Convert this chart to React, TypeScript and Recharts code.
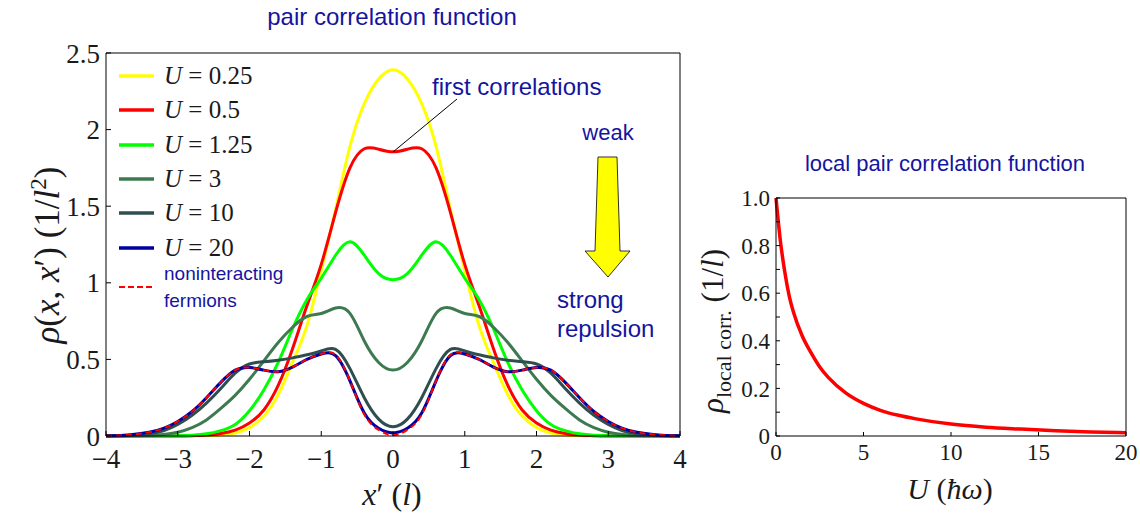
import { LineChart, Line, XAxis, YAxis, Legend } from 'recharts'

// x' positions (units of l)
const X_POS = [-4, -3.8, -3.6, -3.4, -3.2, -3, -2.8, -2.6, -2.4, -2.2, -2, -1.8, -1.6, -1.4, -1.2, -1, -0.8, -0.6, -0.4, -0.2, 0, 0.2, 0.4, 0.6, 0.8, 1, 1.2, 1.4, 1.6, 1.8, 2, 2.2, 2.4, 2.6, 2.8, 3, 3.2, 3.4, 3.6, 3.8, 4]

// rho(x, x') in 1/l^2 for each interaction strength
const RHO_U025 = [0, 0, 0, 0, 0, 0, 0, 0.002, 0.006, 0.02, 0.055, 0.13, 0.27, 0.48, 0.72, 1.08, 1.48, 1.89, 2.17, 2.33, 2.39, 2.33, 2.17, 1.89, 1.48, 1.08, 0.72, 0.48, 0.27, 0.13, 0.055, 0.02, 0.006, 0.002, 0, 0, 0, 0, 0, 0, 0]
const RHO_U05 = [0, 0, 0, 0, 0, 0, 0.002, 0.006, 0.016, 0.038, 0.085, 0.17, 0.33, 0.57, 0.85, 1.12, 1.46, 1.75, 1.875, 1.872, 1.855, 1.872, 1.875, 1.75, 1.46, 1.12, 0.85, 0.57, 0.33, 0.17, 0.085, 0.038, 0.016, 0.006, 0.002, 0, 0, 0, 0, 0, 0]
const RHO_U125 = [0, 0, 0, 0, 0, 0.001, 0.005, 0.014, 0.035, 0.075, 0.165, 0.3, 0.48, 0.7, 0.89, 1.03, 1.18, 1.268, 1.18, 1.06, 1.02, 1.06, 1.18, 1.268, 1.18, 1.03, 0.89, 0.7, 0.48, 0.3, 0.165, 0.075, 0.035, 0.014, 0.005, 0.001, 0, 0, 0, 0, 0]
const RHO_U3 = [0, 0, 0.001, 0.004, 0.01, 0.025, 0.055, 0.105, 0.18, 0.265, 0.37, 0.49, 0.61, 0.71, 0.78, 0.8, 0.835, 0.8, 0.62, 0.48, 0.43, 0.48, 0.62, 0.8, 0.835, 0.8, 0.78, 0.71, 0.61, 0.49, 0.37, 0.265, 0.18, 0.105, 0.055, 0.025, 0.01, 0.004, 0.001, 0, 0]
const RHO_U10 = [0, 0.002, 0.005, 0.014, 0.034, 0.075, 0.135, 0.215, 0.31, 0.41, 0.47, 0.485, 0.495, 0.51, 0.53, 0.555, 0.565, 0.44, 0.25, 0.11, 0.06, 0.11, 0.25, 0.44, 0.565, 0.555, 0.53, 0.51, 0.495, 0.485, 0.47, 0.41, 0.31, 0.215, 0.135, 0.075, 0.034, 0.014, 0.005, 0.002, 0]
const RHO_U20 = [0.001, 0.004, 0.011, 0.024, 0.05, 0.095, 0.16, 0.25, 0.35, 0.43, 0.447, 0.43, 0.42, 0.45, 0.5, 0.535, 0.525, 0.36, 0.15, 0.05, 0.02, 0.05, 0.15, 0.36, 0.525, 0.535, 0.5, 0.45, 0.42, 0.43, 0.447, 0.43, 0.35, 0.25, 0.16, 0.095, 0.05, 0.024, 0.011, 0.004, 0.001]
const RHO_FERMI = [0.001, 0.004, 0.011, 0.024, 0.05, 0.095, 0.16, 0.25, 0.35, 0.43, 0.447, 0.43, 0.42, 0.45, 0.5, 0.535, 0.53, 0.36, 0.14, 0.04, 0.005, 0.04, 0.14, 0.36, 0.53, 0.535, 0.5, 0.45, 0.42, 0.43, 0.447, 0.43, 0.35, 0.25, 0.16, 0.095, 0.05, 0.024, 0.011, 0.004, 0.001]

// local pair correlation vs U (hbar omega)
const U_VALUES = [0, 0.25, 0.5, 0.75, 1, 1.5, 2, 2.5, 3, 4, 5, 6, 7, 8, 10, 12, 14, 16, 18, 20]
const RHO_LOCAL = [1.0, 0.82, 0.69, 0.59, 0.52, 0.42, 0.35, 0.29, 0.245, 0.18, 0.137, 0.107, 0.087, 0.072, 0.05, 0.037, 0.029, 0.022, 0.017, 0.014]

const X_TICKS = [-4, -3, -2, -1, 0, 1, 2, 3, 4]
const Y_TICKS = [0, 0.5, 1, 1.5, 2, 2.5]
const U_TICKS = [0, 5, 10, 15, 20]
const LOCAL_TICKS = [0, 0.1, 0.2, 0.3, 0.4, 0.5, 0.6, 0.7, 0.8, 0.9, 1.0]

const SERIF = "'Liberation Serif', 'DejaVu Serif', serif"
const SANS = "'Liberation Sans', Arial, sans-serif"
const BLUE = '#1414a0'
const INK = '#1a1a1a'

const SERIES = [
    { key: 'u025', u: '0.25', color: '#ffff00', values: RHO_U025 },
    { key: 'u05', u: '0.5', color: '#ff0000', values: RHO_U05 },
    { key: 'u125', u: '1.25', color: '#00ff00', values: RHO_U125 },
    { key: 'u3', u: '3', color: '#3d7a4f', values: RHO_U3 },
    { key: 'u10', u: '10', color: '#2f4f4f', values: RHO_U10 },
    { key: 'u20', u: '20', color: '#0000a0', values: RHO_U20 },
]

const pairRows = X_POS.map((x, i) => {
    const row: Record<string, number> = { x, fermi: RHO_FERMI[i] }
    SERIES.forEach(s => { row[s.key] = s.values[i] })
    return row
})

const localRows = U_VALUES.map((u, i) => ({ u, rho: RHO_LOCAL[i] }))

const signed = (v: number) => (v < 0 ? `\u2212${-v}` : `${v}`)
const localLabel = (v: number) => {
    const n = Math.round(v * 10)
    if (n % 2 !== 0) return ''
    if (n === 0) return '0'
    return v.toFixed(1)
}

function PairLegend() {
    return (
        <div style={{ fontFamily: SERIF, color: INK }}>
            {SERIES.map(s => (
                <div key={s.key} style={{ display: 'flex', alignItems: 'center', height: 34.3 }}>
                    <svg width={36} height={6}>
                        <line x1={0} y1={3} x2={35} y2={3} stroke={s.color} strokeWidth={3.5} />
                    </svg>
                    <span style={{ marginLeft: 9, fontSize: 25, whiteSpace: 'nowrap' }}>
                        <i>U</i>&nbsp;=&nbsp;{s.u}
                    </span>
                </div>
            ))}
            <div style={{ display: 'flex', alignItems: 'center', marginTop: -5 }}>
                <svg width={36} height={6}>
                    <line x1={0} y1={3} x2={35} y2={3} stroke="#ff0000" strokeWidth={2} strokeDasharray="6 3" />
                </svg>
                <span style={{ marginLeft: 9, fontFamily: SANS, fontSize: 19, lineHeight: '27px', color: BLUE }}>
                    noninteracting<br />fermions
                </span>
            </div>
        </div>
    )
}

export default function App() {
    const tickFont = { fill: INK, fontSize: 27, fontFamily: SERIF }
    const smallTickFont = { fill: INK, fontSize: 23, fontFamily: SERIF }
    return (
        <div style={{ position: 'absolute', left: 0, top: 0, width: 1140, height: 515, background: '#fff' }}>
            <div style={{ position: 'absolute', left: 0, top: 0 }}>
                {/* axes are 1px wide so the frame sits on the margins */}
                <LineChart width={700} height={515} data={pairRows} margin={{ top: 52, right: 19, bottom: 78, left: 105 }}>
                    <XAxis xAxisId="b" type="number" dataKey="x" domain={[-4, 4]} ticks={X_TICKS} interval={0}
                        height={1} stroke="#000" tickSize={-5} tickMargin={18} tick={tickFont} tickFormatter={signed} />
                    <XAxis xAxisId="t" orientation="top" type="number" dataKey="x" domain={[-4, 4]} ticks={X_TICKS}
                        interval={0} height={1} stroke="#000" tickSize={-5} tick={false} />
                    <YAxis yAxisId="l" type="number" domain={[0, 2.5]} ticks={Y_TICKS} interval={0} width={1}
                        stroke="#000" tickSize={-5} tickMargin={11} tick={tickFont} />
                    <YAxis yAxisId="r" orientation="right" type="number" domain={[0, 2.5]} ticks={Y_TICKS} interval={0}
                        width={1} stroke="#000" tickSize={-5} tick={false} />
                    {SERIES.map(s => (
                        <Line key={s.key} xAxisId="b" yAxisId="l" type="natural" dataKey={s.key} stroke={s.color}
                            strokeWidth={3} dot={false} isAnimationActive={false} />
                    ))}
                    <Line xAxisId="b" yAxisId="l" type="natural" dataKey="fermi" stroke="#ff0000" strokeWidth={2}
                        strokeDasharray="6 4" dot={false} isAnimationActive={false} />
                    <Legend layout="vertical" align="center" verticalAlign="middle" content={<PairLegend />}
                        wrapperStyle={{ left: 119, top: 59, width: 220 }} />
                </LineChart>
            </div>
            <div style={{ position: 'absolute', left: 700, top: 0 }}>
                <LineChart width={440} height={515} data={localRows} margin={{ top: 197, right: 13, bottom: 78, left: 75 }}>
                    <XAxis xAxisId="b" type="number" dataKey="u" domain={[0, 20]} ticks={U_TICKS} interval={0}
                        height={1} stroke="#000" tickSize={-4} tickMargin={12} tick={smallTickFont} />
                    <XAxis xAxisId="t" orientation="top" type="number" dataKey="u" domain={[0, 20]} ticks={U_TICKS}
                        interval={0} height={1} stroke="#000" tickSize={-4} tick={false} />
                    <YAxis yAxisId="l" type="number" domain={[0, 1]} ticks={LOCAL_TICKS} interval={0} width={1}
                        stroke="#000" tickSize={-4} tickMargin={10} tick={smallTickFont} tickFormatter={localLabel} />
                    <YAxis yAxisId="r" orientation="right" type="number" domain={[0, 1]} ticks={LOCAL_TICKS}
                        interval={0} width={1} stroke="#000" tickSize={-4} tick={false} />
                    <Line xAxisId="b" yAxisId="l" type="monotone" dataKey="rho" stroke="#ff0000" strokeWidth={3.5}
                        dot={false} isAnimationActive={false} />
                </LineChart>
            </div>
            <svg width={1140} height={515} style={{ position: 'absolute', left: 0, top: 0, pointerEvents: 'none' }}>
                <g fontFamily={SANS} fill={BLUE}>
                    <text x={392} y={25} textAnchor="middle" fontSize={24}>pair correlation function</text>
                    <text x={945} y={171} textAnchor="middle" fontSize={22}>local pair correlation function</text>
                    <text x={432} y={95} fontSize={24}>first correlations</text>
                    <text x={608} y={140} textAnchor="middle" fontSize={22}>weak</text>
                    <text x={557} y={308} fontSize={24}>strong</text>
                    <text x={557} y={337} fontSize={24}>repulsion</text>
                </g>
                <line x1={457} y1={99} x2={393} y2={152} stroke="#000" strokeWidth={1} />
                <polygon points="598,157 617,157 620,251 630,251 608,277 585,251 595,251"
                    fill="#ffff00" stroke="#000" strokeWidth={0.8} />
                <g fontFamily={SERIF} fill={INK}>
                    <text x={392} y={505} textAnchor="middle" fontSize={32}>
                        <tspan fontStyle="italic">x</tspan>′ (<tspan fontStyle="italic">l</tspan>)
                    </text>
                    <text transform="translate(59,255) rotate(-90)" textAnchor="middle" fontSize={35}>
                        <tspan fontStyle="italic">ρ</tspan>(<tspan fontStyle="italic">x</tspan>, <tspan fontStyle="italic">x</tspan>′) (1/<tspan fontStyle="italic">l</tspan><tspan dy={-13} fontSize={23}>2</tspan><tspan dy={13}>)</tspan>
                    </text>
                    <text x={950} y={499} textAnchor="middle" fontSize={30}>
                        <tspan fontStyle="italic">U</tspan> (<tspan fontStyle="italic">ħω</tspan>)
                    </text>
                    <text transform="translate(723,331) rotate(-90)" textAnchor="middle" fontSize={31}>
                        <tspan fontStyle="italic">ρ</tspan><tspan dy={8} fontSize={22}>local corr.</tspan><tspan dy={-8}> (1/</tspan><tspan fontStyle="italic">l</tspan>)
                    </text>
                </g>
            </svg>
        </div>
    )
}
